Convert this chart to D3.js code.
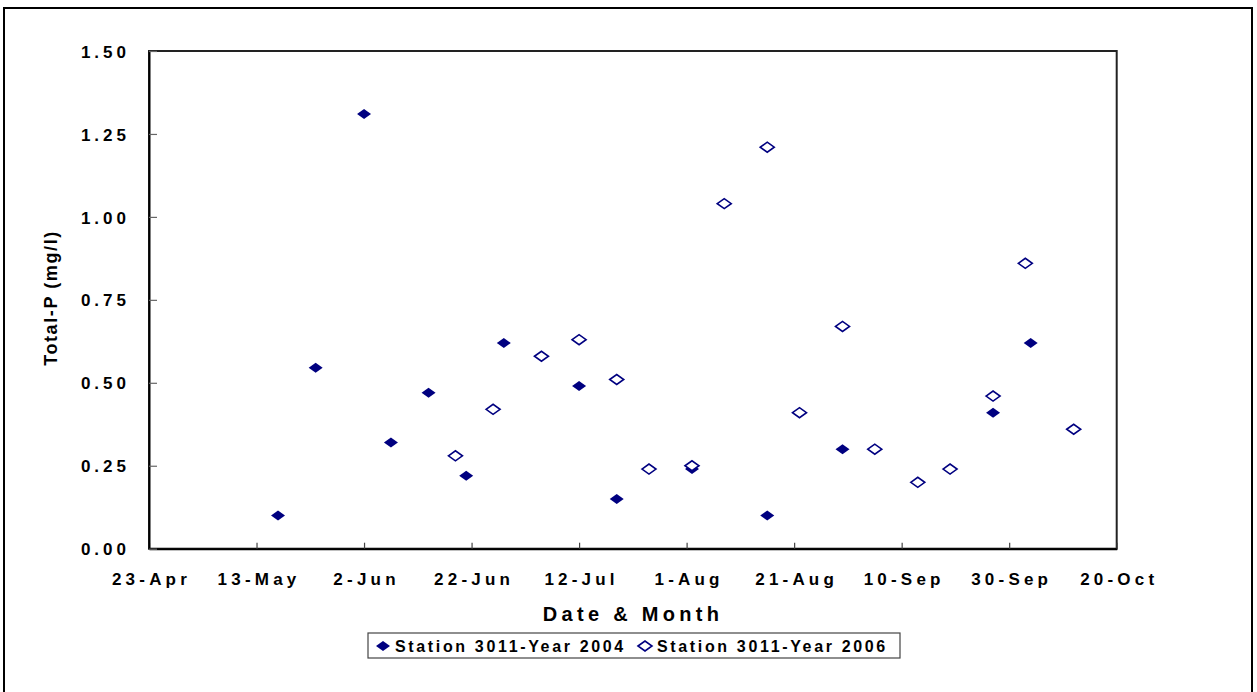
<!DOCTYPE html>
<html>
<head>
<meta charset="utf-8">
<script src="https://d3js.org/d3.v7.min.js"></script>
<style>
  body { margin: 0; background: #fff; }
  text { font-family: Arial, "Liberation Sans", sans-serif; font-weight: bold; fill: #000; }
</style>
</head>
<body>
<svg id="draw"></svg>
<script>
// sampling dates (day-month) and Total-P values
const dates2004 = ["17-May", "24-May", "2-Jun", "7-Jun", "14-Jun", "21-Jun", "28-Jun",
  "12-Jul", "19-Jul", "2-Aug", "16-Aug", "30-Aug", "27-Sep", "4-Oct"];
const values2004 = [0.10, 0.545, 1.31, 0.32, 0.47, 0.22, 0.62, 0.49, 0.15, 0.24, 0.10, 0.30, 0.41, 0.62];

const dates2006 = ["19-Jun", "26-Jun", "5-Jul", "12-Jul", "19-Jul", "25-Jul", "2-Aug", "8-Aug",
  "16-Aug", "22-Aug", "30-Aug", "5-Sep", "13-Sep", "19-Sep", "27-Sep", "3-Oct", "12-Oct"];
const values2006 = [0.28, 0.42, 0.58, 0.63, 0.51, 0.24, 0.25, 1.04, 1.21, 0.41, 0.67, 0.30, 0.20, 0.24, 0.46, 0.86, 0.36];

const xTickLabels = ["23-Apr", "13-May", "2-Jun", "22-Jun", "12-Jul", "1-Aug", "21-Aug", "10-Sep", "30-Sep", "20-Oct"];
const yTicks = [0, 0.25, 0.5, 0.75, 1.0, 1.25, 1.5];

const seriesNames = ["Station 3011-Year 2004", "Station 3011-Year 2006"];

const W = 1257, H = 692;
const margin = { top: 51, right: 140.3, bottom: 143.3, left: 149 };
const width = W - margin.left - margin.right;
const height = H - margin.top - margin.bottom;
const navy = "#000080";

// all dates go on one calendar so both years share the axis
const parseDay = function(s) { return d3.utcParse("%d-%b-%Y")(s + "-2000"); };

const svg = d3.select("#draw").attr("width", W).attr("height", H);

// outer chart frame (bottom edge runs off the picture)
svg.append("rect")
  .attr("x", 4).attr("y", 8)
  .attr("width", 1248).attr("height", 700)
  .attr("fill", "none").attr("stroke", "#000").attr("stroke-width", 2);

const g = svg.append("g")
  .attr("transform", "translate(" + margin.left + "," + margin.top + ")");

const xScale = d3.scaleUtc()
  .domain([parseDay(xTickLabels[0]), parseDay(xTickLabels[xTickLabels.length - 1])])
  .range([0, width]);

const yScale = d3.scaleLinear()
  .domain([0, 1.5])
  .range([height, 0]);

// plot area border
g.append("rect")
  .attr("width", width).attr("height", height)
  .attr("fill", "none").attr("stroke", "#222").attr("stroke-width", 2);

// x axis: ticks point inward
const xAxis = g.append("g")
  .attr("class", "x axis")
  .attr("transform", "translate(0," + height + ")")
  .call(d3.axisBottom(xScale)
    .tickValues(xTickLabels.map(parseDay))
    .tickSizeInner(-6)
    .tickSizeOuter(0)
    .tickFormat(function(d, i) { return xTickLabels[i]; }));

xAxis.select(".domain").attr("stroke", "#000").attr("stroke-width", 2);
xAxis.selectAll(".tick line").attr("stroke", "#444").attr("stroke-width", 1.2);
xAxis.selectAll(".tick text")
  .attr("y", 0)
  .attr("dy", 0)
  .attr("transform", "translate(2,36)")
  .style("font-size", "17px")
  .style("letter-spacing", "4.2px");

// y axis
const yAxis = g.append("g")
  .attr("class", "y axis")
  .call(d3.axisLeft(yScale)
    .tickValues(yTicks)
    .tickSizeInner(-8)
    .tickSizeOuter(0)
    .tickFormat(d3.format(".2f")));

yAxis.select(".domain").attr("stroke", "#000").attr("stroke-width", 2);
yAxis.selectAll(".tick line").attr("stroke", "#666").attr("stroke-width", 1.2);
yAxis.selectAll(".tick text")
  .attr("x", -19)
  .attr("dy", "0.36em")
  .style("font-size", "17px")
  .style("letter-spacing", "4px");

// axis titles
svg.append("text")
  .attr("x", 633).attr("y", 621)
  .attr("text-anchor", "middle")
  .style("font-size", "20px")
  .style("letter-spacing", "4.3px")
  .text("Date & Month");

svg.append("text")
  .attr("transform", "translate(57,298) rotate(-90)")
  .attr("text-anchor", "middle")
  .style("font-size", "18px")
  .style("letter-spacing", "1.6px")
  .text("Total-P (mg/l)");

// wide, flat diamond marker
const diamond = "M-7,0L0,-5L7,0L0,5Z";

g.selectAll(".p2004")
  .data(dates2004.map(function(d, i) { return { date: parseDay(d), value: values2004[i] }; }))
  .enter().append("path")
  .attr("class", "p2004")
  .attr("d", diamond)
  .attr("transform", function(d) { return "translate(" + xScale(d.date) + "," + yScale(d.value) + ")"; })
  .attr("fill", navy);

g.selectAll(".p2006")
  .data(dates2006.map(function(d, i) { return { date: parseDay(d), value: values2006[i] }; }))
  .enter().append("path")
  .attr("class", "p2006")
  .attr("d", diamond)
  .attr("transform", function(d) { return "translate(" + xScale(d.date) + "," + yScale(d.value) + ")"; })
  .attr("fill", "#fff")
  .attr("stroke", navy)
  .attr("stroke-width", 1.6);

// legend
const legend = svg.append("g").attr("transform", "translate(368,633)");
legend.append("rect")
  .attr("width", 532).attr("height", 25)
  .attr("fill", "#fff").attr("stroke", "#444").attr("stroke-width", 1.2);

const legendX = [15, 277];
seriesNames.forEach(function(name, i) {
  legend.append("path")
    .attr("d", diamond)
    .attr("transform", "translate(" + legendX[i] + ",13)")
    .attr("fill", i === 0 ? navy : "#fff")
    .attr("stroke", i === 0 ? "none" : navy)
    .attr("stroke-width", 1.6);
  legend.append("text")
    .attr("x", legendX[i] + 12).attr("y", 19)
    .style("font-size", "16px")
    .style("letter-spacing", "2.65px")
    .text(name);
});
</script>
</body>
</html>
